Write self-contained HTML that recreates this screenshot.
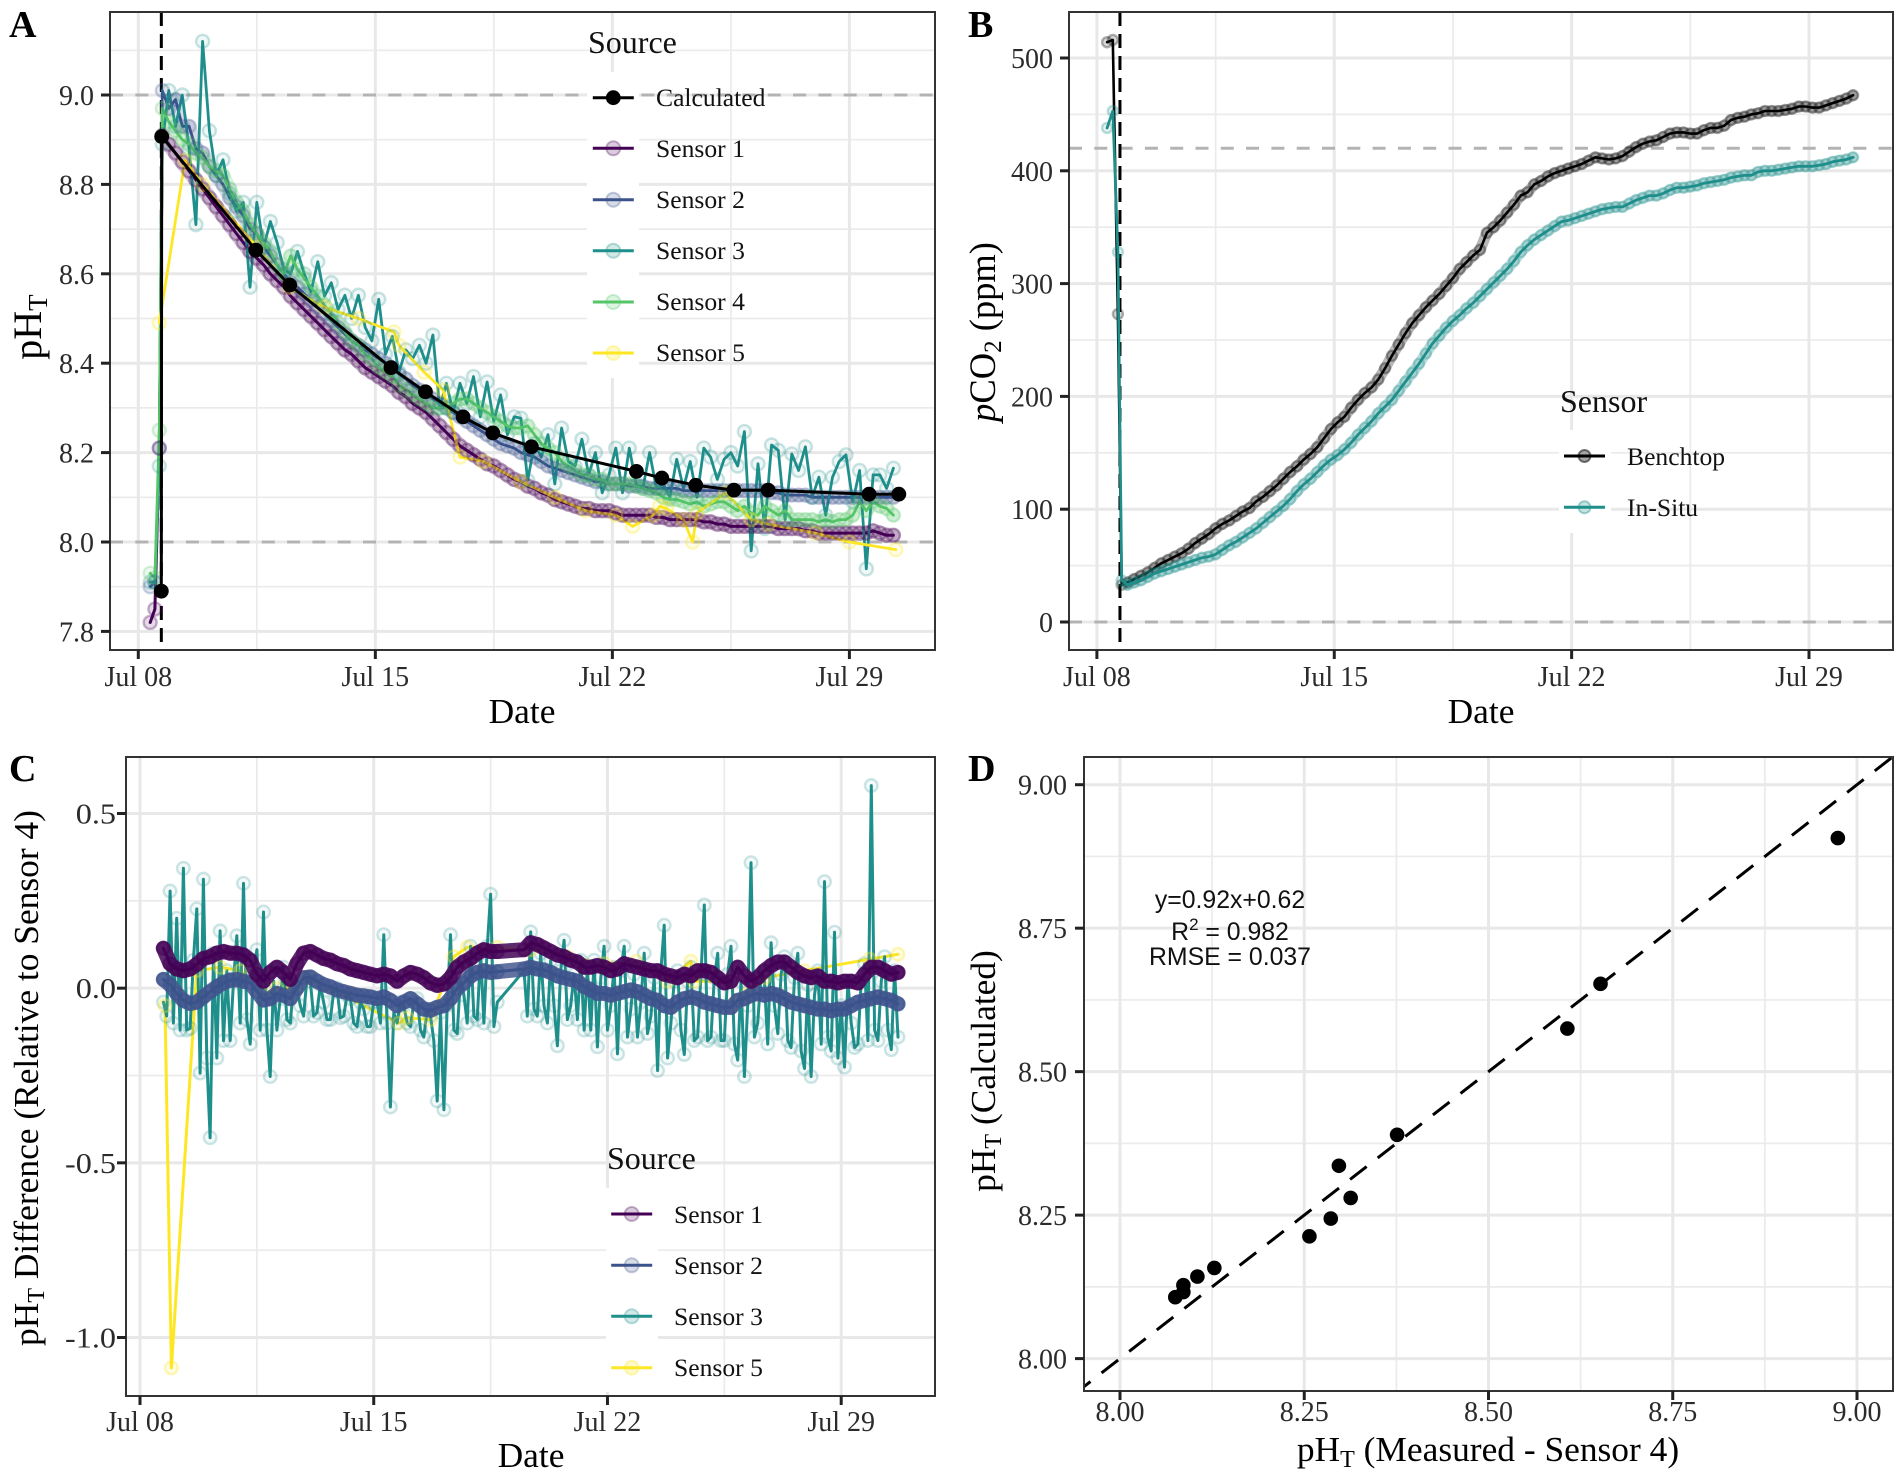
<!DOCTYPE html>
<html lang="en">
<head>
<meta charset="utf-8">
<title>pH and pCO2 sensor comparison</title>
<style>
html,body{margin:0;padding:0;background:#fff;}
svg{display:block;}
text{font-family:"Liberation Serif",serif;fill:#111;}
.tick{font-size:28px;fill:#2b2b2b;}
.title{font-size:35.4px;fill:#000;}
.legtitle{font-size:32px;fill:#111;}
.leg{font-size:25.6px;fill:#111;}
.letter{font-size:38px;font-weight:bold;fill:#000;}
.note{font-family:"Liberation Sans",sans-serif;font-size:24.8px;fill:#111;}
</style>
</head>
<body>
<svg id="figure" xmlns="http://www.w3.org/2000/svg" width="1902" height="1477" viewBox="0 0 1902 1477">
  <defs>
    <clipPath id="clip-a"><rect x="110" y="12" width="825" height="638"/></clipPath>
    <clipPath id="clip-b"><rect x="1069" y="12" width="824" height="638"/></clipPath>
    <clipPath id="clip-c"><rect x="126" y="757" width="809" height="639"/></clipPath>
    <clipPath id="clip-d"><rect x="1084" y="757" width="809" height="634"/></clipPath>
  </defs>
  <rect x="0" y="0" width="1902" height="1477" fill="#fff"/>

  <!-- Panel A -->
  <g id="panel-a">
    <g id="a-grid"></g>
    <g id="a-ref" clip-path="url(#clip-a)"></g>
    <g>
      <rect x="587" y="72" width="52" height="306" fill="#fff"/>
      <text class="legtitle" x="588" y="53">Source</text>
      <g id="a-legend-keys"></g>
      <text class="leg" x="656" y="106">Calculated</text>
      <text class="leg" x="656" y="157">Sensor 1</text>
      <text class="leg" x="656" y="208">Sensor 2</text>
      <text class="leg" x="656" y="259">Sensor 3</text>
      <text class="leg" x="656" y="310">Sensor 4</text>
      <text class="leg" x="656" y="361">Sensor 5</text>
    </g>
    <g id="a-data" clip-path="url(#clip-a)"></g>
    <rect x="110" y="12" width="825" height="638" fill="none" stroke="#333" stroke-width="2"/>
    <g id="a-axes"></g>
    <text class="title" x="522" y="723" text-anchor="middle">Date</text>
    <text class="title" font-size="40" style="font-size:40px" transform="translate(41,327) rotate(-90)" text-anchor="middle">pH<tspan dy="6" style="font-size:27px">T</tspan></text>
    <text class="letter" x="9" y="37">A</text>
  </g>

  <!-- Panel B -->
  <g id="panel-b">
    <g id="b-grid"></g>
    <g id="b-ref" clip-path="url(#clip-b)"></g>
    <g>
      <rect x="1559" y="430" width="52" height="103" fill="#fff"/>
      <text class="legtitle" x="1560" y="412">Sensor</text>
      <g id="b-legend-keys"></g>
      <text class="leg" x="1627" y="465">Benchtop</text>
      <text class="leg" x="1627" y="516">In-Situ</text>
    </g>
    <g id="b-data" clip-path="url(#clip-b)"></g>
    <rect x="1069" y="12" width="824" height="638" fill="none" stroke="#333" stroke-width="2"/>
    <g id="b-axes"></g>
    <text class="title" x="1481" y="723" text-anchor="middle">Date</text>
    <text class="title" style="font-size:36.5px" transform="translate(995,332) rotate(-90)" text-anchor="middle"><tspan font-style="italic">p</tspan>CO<tspan dy="6" style="font-size:25px">2</tspan><tspan dy="-6"> (ppm)</tspan></text>
    <text class="letter" x="968" y="37">B</text>
  </g>

  <!-- Panel C -->
  <g id="panel-c">
    <g id="c-grid"></g>
    <g>
      <rect x="606" y="1188" width="52" height="204" fill="#fff"/>
      <text class="legtitle" x="607" y="1169">Source</text>
      <g id="c-legend-keys"></g>
      <text class="leg" x="674" y="1223">Sensor 1</text>
      <text class="leg" x="674" y="1274">Sensor 2</text>
      <text class="leg" x="674" y="1325">Sensor 3</text>
      <text class="leg" x="674" y="1376">Sensor 5</text>
    </g>
    <g id="c-data" clip-path="url(#clip-c)"></g>
    <rect x="126" y="757" width="809" height="639" fill="none" stroke="#333" stroke-width="2"/>
    <g id="c-axes"></g>
    <text class="title" x="531" y="1467" text-anchor="middle">Date</text>
    <text class="title" transform="translate(38,1078) rotate(-90)" text-anchor="middle">pH<tspan dy="6" style="font-size:24px">T</tspan><tspan dy="-6"> Difference (Relative to Sensor 4)</tspan></text>
    <text class="letter" x="9" y="781">C</text>
  </g>

  <!-- Panel D -->
  <g id="panel-d">
    <g id="d-grid"></g>
    <g id="d-data" clip-path="url(#clip-d)"></g>
    <rect x="1084" y="757" width="809" height="634" fill="none" stroke="#333" stroke-width="2"/>
    <g id="d-axes"></g>
    <text class="note" x="1230" y="908" text-anchor="middle">y=0.92x+0.62</text>
    <text class="note" x="1230" y="940" text-anchor="middle">R<tspan dy="-10" style="font-size:17px">2</tspan><tspan dy="10"> = 0.982</tspan></text>
    <text class="note" x="1230" y="965" text-anchor="middle">RMSE = 0.037</text>
    <text class="title" x="1488" y="1461" text-anchor="middle">pH<tspan dy="6" style="font-size:24px">T</tspan><tspan dy="-6"> (Measured - Sensor 4)</tspan></text>
    <text class="title" transform="translate(995,1071) rotate(-90)" text-anchor="middle">pH<tspan dy="6" style="font-size:24px">T</tspan><tspan dy="-6"> (Calculated)</tspan></text>
    <text class="letter" x="968" y="781">D</text>
  </g>
</svg>

<script>
/* ---------- shared axis values ---------- */
const dateTickDays = [8, 15, 22, 29];
const dateTickLabels = ['Jul 08', 'Jul 15', 'Jul 22', 'Jul 29'];
const dateMinorDays = [11.5, 18.5, 25.5];

/* ---------- panel A ---------- */
const aYTicks = [7.8, 8.0, 8.2, 8.4, 8.6, 8.8, 9.0];
const aYLabels = ['7.8', '8.0', '8.2', '8.4', '8.6', '8.8', '9.0'];
const aYMinor = [7.9, 8.1, 8.3, 8.5, 8.7, 8.9, 9.1];
const aRefValues = [9.0, 8.0];
const deployDay = 8.68;
const aDays = [8.35,8.49,8.62,8.71,
8.9,9.1,9.3,9.5,9.7,9.9,10.1,10.3,10.5,10.7,
10.9,11.1,11.3,11.5,11.7,11.9,12.1,12.3,12.5,12.7,
12.9,13.1,13.3,13.5,13.7,13.9,14.1,14.3,14.5,14.7,
14.9,15.1,15.3,15.5,15.7,15.9,16.1,16.3,16.5,16.7,
16.9,17.1,17.3,17.5,17.7,17.9,18.1,18.3,18.5,18.7,
18.9,19.1,19.3,19.5,19.7,19.9,20.1,20.3,20.5,20.7,
20.9,21.1,21.3,21.5,21.7,21.9,22.1,22.3,22.5,22.7,
22.9,23.1,23.3,23.5,23.7,23.9,24.1,24.3,24.5,24.7,
24.9,25.1,25.3,25.5,25.7,25.9,26.1,26.3,26.5,26.7,
26.9,27.1,27.3,27.5,27.7,27.9,28.1,28.3,28.5,28.7,
28.9,29.1,29.3,29.5,29.7,29.9,30.1,30.3];
const aSensor1 = [7.82,7.85,8.21,8.91,
8.89,8.87,8.85,8.83,8.81,8.79,8.77,8.75,8.73,8.71,
8.69,8.67,8.65,8.635,8.62,8.60,8.585,8.57,8.55,8.535,
8.52,8.505,8.49,8.475,8.46,8.445,8.43,8.42,8.405,8.39,
8.38,8.37,8.36,8.35,8.335,8.325,8.31,8.30,8.29,8.275,
8.26,8.245,8.23,8.215,8.205,8.195,8.185,8.175,8.17,8.16,
8.15,8.14,8.135,8.125,8.12,8.11,8.105,8.095,8.09,8.085,
8.08,8.075,8.075,8.07,8.07,8.07,8.065,8.06,8.06,8.06,
8.06,8.06,8.055,8.055,8.05,8.05,8.05,8.05,8.05,8.045,
8.045,8.04,8.04,8.035,8.035,8.035,8.035,8.035,8.035,8.035,
8.03,8.03,8.03,8.03,8.025,8.025,8.02,8.02,8.02,8.02,
8.02,8.02,8.02,8.02,8.025,8.02,8.015,8.015];
const aSensor2 = [7.90,7.91,8.21,9.01,
8.97,8.99,8.93,8.93,8.88,8.87,8.84,8.82,8.80,8.77,
8.75,8.73,8.70,8.69,8.66,8.64,8.62,8.60,8.58,8.57,
8.555,8.54,8.525,8.51,8.495,8.48,8.465,8.45,8.44,8.43,
8.42,8.41,8.40,8.39,8.375,8.365,8.35,8.34,8.33,8.32,
8.31,8.30,8.29,8.28,8.27,8.26,8.25,8.24,8.23,8.22,
8.215,8.21,8.20,8.195,8.19,8.18,8.17,8.165,8.16,8.155,
8.15,8.145,8.14,8.135,8.135,8.13,8.13,8.13,8.125,8.125,
8.125,8.12,8.12,8.12,8.12,8.12,8.115,8.115,8.115,8.115,
8.115,8.115,8.115,8.115,8.115,8.115,8.115,8.115,8.115,8.11,
8.11,8.105,8.105,8.105,8.105,8.10,8.10,8.10,8.10,8.10,
8.10,8.10,8.10,8.10,8.10,8.10,8.10,8.10];
const aSensor3 = [7.91,7.91,8.17,8.89,
9.01,8.93,9.0,8.88,8.71,9.12,8.92,8.82,8.855,8.78,
8.74,8.76,8.57,8.76,8.66,8.717,8.67,8.61,8.60,8.65,
8.60,8.56,8.627,8.55,8.58,8.52,8.552,8.50,8.552,8.48,
8.45,8.543,8.42,8.46,8.38,8.43,8.41,8.44,8.40,8.463,
8.30,8.355,8.29,8.355,8.31,8.37,8.28,8.358,8.27,8.329,
8.24,8.28,8.277,8.138,8.22,8.19,8.24,8.13,8.255,8.18,
8.17,8.23,8.15,8.20,8.11,8.15,8.21,8.11,8.21,8.13,
8.12,8.20,8.12,8.13,8.10,8.185,8.12,8.18,8.10,8.21,
8.19,8.14,8.185,8.20,8.17,8.247,7.98,8.175,8.03,8.217,
8.205,8.05,8.197,8.16,8.213,8.10,8.145,8.06,8.145,8.18,
8.195,8.09,8.16,7.94,8.15,8.15,8.12,8.165];
const aSensor4 = [7.93,7.92,8.25,8.97,
8.94,8.92,8.90,8.89,8.87,8.86,8.84,8.83,8.82,8.79,
8.76,8.74,8.71,8.69,8.67,8.65,8.62,8.60,8.64,8.61,
8.59,8.57,8.55,8.53,8.51,8.49,8.47,8.45,8.44,8.42,
8.41,8.39,8.38,8.37,8.35,8.34,8.33,8.32,8.31,8.30,
8.30,8.30,8.31,8.32,8.32,8.31,8.30,8.29,8.28,8.27,
8.26,8.255,8.255,8.26,8.24,8.22,8.21,8.20,8.18,8.17,
8.16,8.15,8.15,8.14,8.14,8.13,8.13,8.13,8.13,8.125,
8.12,8.115,8.11,8.10,8.095,8.095,8.09,8.085,8.09,8.08,
8.085,8.09,8.09,8.08,8.07,8.08,8.065,8.06,8.08,8.07,
8.06,8.07,8.05,8.05,8.05,8.05,8.045,8.05,8.045,8.05,
8.05,8.06,8.09,8.07,8.09,8.08,8.075,8.06];
const aSensor5Days = [8.62,9.38,9.9,11.5,12.47,13.5,14.5,15.55,15.7,16.44,17.0,17.5,18.2,19.3,20.3,21.2,22.1,22.6,23.2,23.4,23.6,24.1,24.37,24.5,25.34,26.1,26.6,28,29,30.37];
const aSensor5 = [8.49,8.854,8.80,8.66,8.57,8.525,8.50,8.47,8.44,8.38,8.34,8.19,8.18,8.135,8.10,8.07,8.06,8.035,8.06,8.08,8.075,8.05,8.00,8.065,8.11,8.05,8.04,8.02,8.0,7.983];
const calcDays = [8.68,8.69,11.47,12.47,15.46,16.48,17.59,18.47,19.61,22.71,23.46,24.46,25.59,26.6,29.58,30.46];
const calcValues = [7.89,8.907,8.653,8.575,8.39,8.336,8.28,8.244,8.213,8.158,8.143,8.127,8.116,8.116,8.107,8.107];

/* ---------- panel B ---------- */
const bYTicks = [0, 100, 200, 300, 400, 500];
const bYLabels = ['0', '100', '200', '300', '400', '500'];
const bYMinor = [50, 150, 250, 350, 450];
const bRefValues = [420, 0];
const bDays = [8.3,8.47,8.62,8.73,
8.9,9.1,9.3,9.5,9.7,9.9,10.1,10.3,10.5,10.7,
10.9,11.1,11.3,11.5,11.7,11.9,12.1,12.3,12.5,12.7,
12.9,13.1,13.3,13.5,13.7,13.9,14.1,14.3,14.5,14.7,
14.9,15.1,15.3,15.5,15.7,15.9,16.1,16.3,16.5,16.7,
16.9,17.1,17.3,17.5,17.7,17.9,18.1,18.3,18.5,18.7,
18.9,19.1,19.3,19.5,19.7,19.9,20.1,20.3,20.5,20.7,
20.9,21.1,21.3,21.5,21.7,21.9,22.1,22.3,22.5,22.7,
22.9,23.1,23.3,23.5,23.7,23.9,24.1,24.3,24.5,24.7,
24.9,25.1,25.3,25.5,25.7,25.9,26.1,26.3,26.5,26.7,
26.9,27.1,27.3,27.5,27.7,27.9,28.1,28.3,28.5,28.7,
28.9,29.1,29.3,29.5,29.7,29.9,30.1,30.3];
const benchtop = [514,516,273,33,
35,38,41,44,48,52,55,58,61,65,
70,74,78,83,87,90,94,98,101,107,
111,116,121,127,133,138,144,149,155,163,
171,177,182,190,197,203,208,215,225,236,
246,256,265,272,279,285,291,298,305,313,
319,325,330,345,350,356,363,370,378,381,
388,391,395,398,400,402,404,406,409,412,
411,410,411,413,417,421,424,426,427,430,
433,434,434,433,433,436,438,438,440,445,
447,448,450,451,453,453,453,454,455,457,
457,456,456,458,460,462,464,467];
const inSitu = [438,453,328,37,
33,35,37,40,43,45,47,49,51,53,
55,57,58,60,64,68,71,75,79,83,
88,93,98,103,109,116,122,127,133,139,
144,148,153,159,166,172,178,185,191,197,
205,213,221,229,238,247,254,261,267,272,
278,283,289,295,301,307,313,320,328,334,
339,343,347,351,355,356,358,360,362,364,
366,367,368,368,371,374,376,378,378,380,
383,385,385,386,387,389,390,391,392,394,
395,396,396,399,400,400,401,402,403,404,
404,404,405,406,408,409,410,412];

/* ---------- panel C ---------- */
const cYTicks = [-1.0, -0.5, 0.0, 0.5];
const cYLabels = ['-1.0', '-0.5', '0.0', '0.5'];
const cYMinor = [-0.75, -0.25, 0.25];
const cDays = [8.7,8.9,9.1,9.3,9.5,9.7,9.9,10.1,10.3,10.5,
10.7,10.9,11.1,11.3,11.5,11.7,11.9,12.1,12.3,12.5,
12.7,12.9,13.1,13.3,13.5,13.7,13.9,14.1,14.3,14.5,
14.7,14.9,15.1,15.3,15.5,15.7,15.9,16.1,16.3,16.5,
16.7,16.9,17.1,17.3,17.5,17.7,17.9,18.1,18.3,18.5,
18.7,19.5,19.7,19.9,20.1,20.3,20.5,20.7,20.9,21.1,
21.3,21.5,21.7,21.9,22.1,22.3,22.5,22.7,22.9,23.1,
23.3,23.5,23.7,23.9,24.1,24.3,24.5,24.7,24.9,25.1,
25.3,25.5,25.7,25.9,26.1,26.3,26.5,26.7,26.9,27.1,
27.3,27.5,27.7,27.9,28.1,28.3,28.5,28.7,28.9,29.1,
29.3,29.5,29.7,29.9,30.1,30.3,30.5,30.7];
const cSensor1 = [.114,.07,.055,.05,.055,.068,.085,.09,.10,.105,
.10,.10,.095,.08,.04,.02,.045,.06,.045,.025,
.07,.10,.105,.095,.085,.08,.07,.065,.055,.05,
.045,.04,.035,.04,.035,.02,.035,.045,.04,.03,
.015,.008,.012,.03,.06,.075,.085,.10,.11,.105,
.105,.11,.13,.125,.115,.105,.095,.09,.08,.075,
.06,.06,.065,.06,.05,.055,.07,.065,.06,.055,
.05,.05,.04,.035,.03,.04,.035,.05,.05,.045,
.03,.015,.02,.06,.035,.02,.03,.05,.065,.075,
.075,.06,.045,.035,.03,.035,.02,.02,.015,.02,
.02,.015,.04,.06,.06,.05,.04,.045];
const cSensor2 = [.025,.01,-.015,-.035,-.044,-.04,-.025,-.01,.004,.015,
.023,.025,.02,.015,-.01,-.034,-.03,-.015,-.02,-.03,
0,.03,.032,.02,.01,.004,-.005,-.01,-.015,-.02,
-.022,-.025,-.03,-.025,-.035,-.05,-.04,-.03,-.045,-.06,
-.063,-.055,-.05,-.03,0,.015,.035,.045,.05,.045,
.047,.055,.06,.055,.052,.045,.035,.03,.025,.02,
.005,-.005,-.015,-.015,-.02,-.015,-.01,-.005,-.01,-.02,
-.03,-.035,-.05,-.055,-.04,-.03,-.025,-.03,-.04,-.045,
-.05,-.055,-.055,-.035,-.03,-.02,-.015,-.02,-.015,-.02,
-.03,-.04,-.045,-.05,-.055,-.06,-.06,-.065,-.06,-.06,
-.05,-.04,-.035,-.03,-.025,-.03,-.035,-.045];
const cSensor3Days = [8.7,8.8,8.9,9.0,9.1,9.2,9.3,9.4,9.5,9.6,
9.7,9.8,9.9,10.0,10.1,10.2,10.3,10.4,10.5,10.6,
10.7,10.8,10.9,11.0,11.1,11.2,11.3,11.4,11.5,11.6,
11.7,11.8,11.9,12.0,12.1,12.2,12.3,12.4,12.5,12.6,
12.7,12.8,12.9,13.0,13.1,13.2,13.3,13.4,13.5,13.6,
13.7,13.8,13.9,14.0,14.1,14.2,14.3,14.4,14.5,14.6,
14.7,14.8,14.9,15.0,15.1,15.2,15.3,15.4,15.5,15.6,
15.7,15.8,15.9,16.0,16.1,16.2,16.3,16.4,16.5,16.6,
16.7,16.8,16.9,17.0,17.1,17.2,17.3,17.4,17.5,17.6,
17.7,17.8,17.9,18.0,18.1,18.2,18.3,18.4,18.5,18.6,
18.7,19.5,19.6,19.7,19.8,19.9,20.0,20.1,20.2,20.3,
20.4,20.5,20.6,20.7,20.8,20.9,21.0,21.1,21.2,21.3,
21.4,21.5,21.6,21.7,21.8,21.9,22.0,22.1,22.2,22.3,
22.4,22.5,22.6,22.7,22.8,22.9,23.0,23.1,23.2,23.3,
23.4,23.5,23.6,23.7,23.8,23.9,24.0,24.1,24.2,24.3,
24.4,24.5,24.6,24.7,24.8,24.9,25.0,25.1,25.2,25.3,
25.4,25.5,25.6,25.7,25.8,25.9,26.0,26.1,26.2,26.3,
26.4,26.5,26.6,26.7,26.8,26.9,27.0,27.1,27.2,27.3,
27.4,27.5,27.6,27.7,27.8,27.9,28.0,28.1,28.2,28.3,
28.4,28.5,28.6,28.7,28.8,28.9,29.0,29.1,29.2,29.3,
29.4,29.5,29.6,29.7,29.8,29.9,30.0,30.1,30.2,30.3,
30.4,30.5,30.6,30.7];
const cSensor3 = [-.04,-.08,.278,-.1,.2,-.12,.343,-.12,-.115,.08,
.227,-.243,.312,-.2,-.428,.1,-.2,.164,-.15,.05,
-.15,.02,.15,-.1,.30,-.09,-.16,.05,.11,-.12,
.218,-.12,-.253,.02,-.12,-.03,.06,-.09,-.10,.01,
0,-.05,-.08,.03,.02,-.08,-.07,.01,-.04,-.09,
-.09,-.01,0,-.085,-.08,-.02,-.03,-.1,-.11,-.04,
-.06,-.11,-.11,-.04,-.04,-.1,.153,-.1,-.34,-.07,
-.1,-.04,-.05,-.1,-.11,-.04,-.03,-.12,-.14,-.06,
-.08,-.15,-.323,-.07,-.348,-.05,.153,-.12,-.13,.03,
-.02,-.1,.12,-.08,-.09,.1,-.1,.12,.269,-.11,
-.04,.05,-.08,.161,-.06,-.08,.1,-.05,-.1,.08,
-.05,-.165,.05,.137,-.09,-.05,.04,-.09,.08,-.12,
.06,-.12,.08,-.168,.03,.12,-.12,-.05,.06,-.188,
.05,.12,-.14,-.06,.04,-.14,-.04,.10,-.13,-.08,
.03,-.236,.05,.18,-.2,-.10,.02,.05,-.12,-.19,
.02,.06,-.15,-.14,.04,.238,-.15,-.14,.03,.10,
-.15,-.15,.04,.12,-.16,-.206,.02,-.253,-.05,.359,
-.14,-.1,.04,.02,-.16,.13,-.05,-.13,.04,.09,
-.15,-.17,.03,.10,-.18,-.23,.01,-.253,-.02,.05,
-.16,.305,-.14,-.18,.16,-.2,-.05,-.226,.02,-.10,
-.17,-.16,.02,.07,-.15,.58,-.12,-.15,.02,.09,
-.12,-.176,.05,-.14];
const cSensor5Days = [8.75,8.94,9.7,10.4,11.0,11.7,12.1,12.6,13.0,15.75,16.0,16.7,17.4,17.8,18.7,19.7,20.8,21.9,22.86,23.8,24.5,24.6,25.7,25.8,26.2,26.7,27.9,29.85,30.7];
const cSensor5 = [-.05,-1.087,.05,.06,.05,-.02,0,0,.03,-.1,-.085,-.09,.09,.117,.117,.11,.09,.07,.077,.02,.077,.02,.02,-.044,-.018,.03,.05,.083,.097];

/* ---------- panel D ---------- */
const dTicks = [8.0, 8.25, 8.5, 8.75, 9.0];
const dLabels = ['8.00', '8.25', '8.50', '8.75', '9.00'];
const dMinor = [8.125, 8.375, 8.625, 8.875];
const measuredValues = [8.974,8.652,8.607,8.376,8.297,8.313,8.286,8.257,8.128,8.105,8.086,8.086,8.075];
const calculatedValues = [8.907,8.653,8.575,8.39,8.336,8.28,8.244,8.213,8.158,8.143,8.128,8.116,8.107];
const identityLine = [7.9, 9.1];

/* ---------- helpers ---------- */
const NS = 'http://www.w3.org/2000/svg';
const COLORS = {s1:'#440154', s2:'#3B528B', s3:'#1F8F8B', s4:'#55C667', s5:'#FDE725', black:'#000000'};

function make(parent, tag, attrs) {
  const el = document.createElementNS(NS, tag);
  for (const k in attrs) el.setAttribute(k, attrs[k]);
  parent.appendChild(el);
  return el;
}
function linear(v1, p1, v2, p2) {
  return function (v) { return p1 + (v - v1) * (p2 - p1) / (v2 - v1); };
}
function byId(id) { return document.getElementById(id); }

function drawGridAndAxes(gridId, axesId, box, xs, ys, xTicks, xLabels, xMinor, yTicks, yLabels, yMinor, opts) {
  const grid = byId(gridId), axes = byId(axesId);
  xMinor.forEach(function (v) {
    const l = make(grid, 'line', {x1: xs(v), x2: xs(v), y1: box.t, y2: box.b, stroke: '#ebebeb', 'stroke-width': 1.7});
    
    
  });
  yMinor.forEach(function (v) {
    const l = make(grid, 'line', {x1: box.l, x2: box.r, y1: ys(v), y2: ys(v), stroke: '#ebebeb', 'stroke-width': 1.7});
    
    
  });
  xTicks.forEach(function (v, i) {
    const l = make(grid, 'line', {x1: xs(v), x2: xs(v), y1: box.t, y2: box.b, stroke: '#e8e8e8', 'stroke-width': 3});
    
    
    const t = make(axes, 'line', {x1: xs(v), x2: xs(v), y1: box.b, y2: box.b + 9, stroke: '#222', 'stroke-width': 3});
    
    
    const s = make(axes, 'text', {x: xs(v), y: opts.xLabelY, 'text-anchor': 'middle', 'class': 'tick'});
    
    
    s.textContent = xLabels[i];
  });
  yTicks.forEach(function (v, i) {
    const l = make(grid, 'line', {x1: box.l, x2: box.r, y1: ys(v), y2: ys(v), stroke: '#e8e8e8', 'stroke-width': 3});
    
    
    const t = make(axes, 'line', {x1: box.l - 9, x2: box.l, y1: ys(v), y2: ys(v), stroke: '#222', 'stroke-width': 3});
    
    
    const s = make(axes, 'text', {transform: 'translate(' + opts.yLabelX + ',' + (ys(v) + 10) + ') scale(' + (opts.yLabelStretch || 1) + ',1)', 'text-anchor': 'end', 'class': 'tick'});
    
    
    s.textContent = yLabels[i];
  });
}
function drawLine(group, days, vals, xs, ys, color, width, name) {
  const pts = days.map(function (d, i) { return xs(d).toFixed(1) + ',' + ys(vals[i]).toFixed(1); }).join(' ');
  const line = make(group, 'polyline', {points: pts, fill: 'none', stroke: color, 'stroke-width': width, 'stroke-linejoin': 'round', 'stroke-linecap': 'round'});
  
  
}
function drawBand(group, days, vals, xs, ys, color, width, opacity, name) {
  const pts = days.map(function (d, i) { return xs(d).toFixed(1) + ',' + ys(vals[i]).toFixed(1); }).join(' ');
  const band = make(group, 'polyline', {points: pts, fill: 'none', stroke: color, 'stroke-width': width, 'stroke-opacity': opacity, 'stroke-linejoin': 'round', 'stroke-linecap': 'round'});
  
  
}
function drawPoints(group, days, vals, xs, ys, color, r, fillOp, strokeOp, name) {
  days.forEach(function (d, i) {
    const c = make(group, 'circle', {cx: xs(d), cy: ys(vals[i]), r: r, fill: color, 'fill-opacity': fillOp, stroke: color, 'stroke-opacity': strokeOp, 'stroke-width': 2.4});
    
    
  });
}
function drawKey(group, cx, cy, color, r, fillOp, strokeOp, width, name) {
  const c = make(group, 'circle', {cx: cx, cy: cy, r: r, fill: color, 'fill-opacity': fillOp, stroke: color, 'stroke-opacity': strokeOp, 'stroke-width': 2});
  
  
  const l = make(group, 'line', {x1: cx - 20.5, x2: cx + 20.5, y1: cy, y2: cy, stroke: color, 'stroke-width': width});
  
  
}
function drawHRef(group, vals, box, ys) {
  vals.forEach(function (v) {
    const l = make(group, 'line', {x1: box.l, x2: box.r, y1: ys(v), y2: ys(v), stroke: '#b3b3b3', 'stroke-width': 3, 'stroke-dasharray': '13 12.3'});
    
    
  });
}
function drawDeploy(group, day, box, xs) {
  const l = make(group, 'line', {x1: xs(day), x2: xs(day), y1: box.t, y2: box.b, stroke: '#000', 'stroke-width': 3, 'stroke-dasharray': '14 8'});
  
  
}

/* ---------- panel A ---------- */
(function () {
  const box = {l: 110, t: 12, r: 935, b: 650};
  const xs = linear(8, 138.3, 29, 849.4);
  const ys = linear(9, 95, 8, 542);
  drawGridAndAxes('a-grid', 'a-axes', box, xs, ys, dateTickDays, dateTickLabels, dateMinorDays, aYTicks, aYLabels, aYMinor, {xLabelY: 686, yLabelX: 94});
  const ref = byId('a-ref');
  drawHRef(ref, aRefValues, box, ys);
  drawDeploy(ref, deployDay, box, xs);
  const g = byId('a-data');
  drawBand(g, aDays.slice(4), aSensor1.slice(4), xs, ys, COLORS.s1, 15, .22, 'sensor-1');
  drawBand(g, aDays.slice(4), aSensor2.slice(4), xs, ys, COLORS.s2, 14, .2, 'sensor-2');
  drawBand(g, aDays.slice(4), aSensor4.slice(4), xs, ys, COLORS.s4, 14, .2, 'sensor-4');
  drawLine(g, aDays, aSensor1, xs, ys, COLORS.s1, 3, 'sensor-1');
  drawLine(g, aDays, aSensor2, xs, ys, COLORS.s2, 2.8, 'sensor-2');
  drawLine(g, aDays, aSensor3, xs, ys, COLORS.s3, 2.8, 'sensor-3');
  drawLine(g, aDays, aSensor4, xs, ys, COLORS.s4, 2.8, 'sensor-4');
  drawLine(g, aSensor5Days, aSensor5, xs, ys, COLORS.s5, 2.8, 'sensor-5');
  drawPoints(g, aDays, aSensor1, xs, ys, COLORS.s1, 6.5, .14, .3, 'sensor-1');
  drawPoints(g, aDays, aSensor2, xs, ys, COLORS.s2, 6.5, .12, .26, 'sensor-2');
  drawPoints(g, aDays, aSensor3, xs, ys, COLORS.s3, 6.5, .07, .24, 'sensor-3');
  drawPoints(g, aDays, aSensor4, xs, ys, COLORS.s4, 6.5, .1, .26, 'sensor-4');
  drawPoints(g, aSensor5Days, aSensor5, xs, ys, COLORS.s5, 6.5, .1, .3, 'sensor-5');
  drawLine(g, calcDays, calcValues, xs, ys, COLORS.black, 3, 'calculated');
  calcDays.forEach(function (d, i) {
    const c = make(g, 'circle', {cx: xs(d), cy: ys(calcValues[i]), r: 7.4, fill: '#000'});
    
    
  });
  const k = byId('a-legend-keys');
  const c0 = make(k, 'circle', {cx: 613.3, cy: 97.7, r: 7.4, fill: '#000'});
  
  
  const l0 = make(k, 'line', {x1: 592.8, x2: 633.8, y1: 97.7, y2: 97.7, stroke: '#000', 'stroke-width': 3});
  
  
  drawKey(k, 613.3, 148.3, COLORS.s1, 7, .2, .3, 3, 'sensor-1');
  drawKey(k, 613.3, 199.7, COLORS.s2, 7, .2, .3, 3, 'sensor-2');
  drawKey(k, 613.3, 250.7, COLORS.s3, 7, .2, .3, 3, 'sensor-3');
  drawKey(k, 613.3, 302, COLORS.s4, 7, .2, .3, 3, 'sensor-4');
  drawKey(k, 613.3, 353, COLORS.s5, 7, .25, .3, 3, 'sensor-5');
})();

/* ---------- panel B ---------- */
(function () {
  const box = {l: 1069, t: 12, r: 1893, b: 650};
  const xs = linear(8, 1096.9, 29, 1809);
  const ys = linear(500, 58, 0, 622);
  drawGridAndAxes('b-grid', 'b-axes', box, xs, ys, dateTickDays, dateTickLabels, dateMinorDays, bYTicks, bYLabels, bYMinor, {xLabelY: 686, yLabelX: 1053});
  const ref = byId('b-ref');
  drawHRef(ref, bRefValues, box, ys);
  drawDeploy(ref, deployDay, box, xs);
  const g = byId('b-data');
  drawBand(g, bDays.slice(4), benchtop.slice(4), xs, ys, COLORS.black, 11, .28, 'benchtop');
  drawLine(g, bDays, benchtop, xs, ys, COLORS.black, 2.6, 'benchtop');
  drawPoints(g, bDays, benchtop, xs, ys, COLORS.black, 5, .15, .3, 'benchtop');
  drawBand(g, bDays.slice(4), inSitu.slice(4), xs, ys, COLORS.s3, 11, .3, 'in-situ');
  drawLine(g, bDays, inSitu, xs, ys, COLORS.s3, 2.8, 'in-situ');
  drawPoints(g, bDays, inSitu, xs, ys, COLORS.s3, 5, .12, .3, 'in-situ');
  const k = byId('b-legend-keys');
  drawKey(k, 1584.5, 456, '#000', 6, .35, .5, 3, 'benchtop');
  drawKey(k, 1584.5, 507.3, COLORS.s3, 6, .25, .4, 3, 'in-situ');
})();

/* ---------- panel C ---------- */
(function () {
  const box = {l: 126, t: 757, r: 935, b: 1396};
  const xs = linear(8, 140, 29, 841.2);
  const ys = linear(0.5, 813.5, -1, 1337.5);
  drawGridAndAxes('c-grid', 'c-axes', box, xs, ys, dateTickDays, dateTickLabels, dateMinorDays, cYTicks, cYLabels, cYMinor, {xLabelY: 1431, yLabelX: 116, yLabelStretch: 1.15});
  const g = byId('c-data');
  drawLine(g, cSensor5Days, cSensor5, xs, ys, COLORS.s5, 3, 'sensor-5');
  drawLine(g, cSensor3Days, cSensor3, xs, ys, COLORS.s3, 3, 'sensor-3');
  drawPoints(g, cSensor3Days, cSensor3, xs, ys, COLORS.s3, 6.3, .05, .22, 'sensor-3');
  drawPoints(g, cSensor5Days, cSensor5, xs, ys, COLORS.s5, 6.3, .12, .32, 'sensor-5');
  drawBand(g, cDays, cSensor2, xs, ys, '#46598F', 15, .85, 'sensor-2');
  drawLine(g, cDays, cSensor2, xs, ys, COLORS.s2, 3, 'sensor-2');
  drawPoints(g, cDays, cSensor2, xs, ys, COLORS.s2, 6.5, .4, .4, 'sensor-2');
  drawBand(g, cDays, cSensor1, xs, ys, '#4E1260', 15, .9, 'sensor-1');
  drawLine(g, cDays, cSensor1, xs, ys, COLORS.s1, 3, 'sensor-1');
  drawPoints(g, cDays, cSensor1, xs, ys, COLORS.s1, 6.5, .4, .4, 'sensor-1');
  const k = byId('c-legend-keys');
  drawKey(k, 631.7, 1214, COLORS.s1, 7, .2, .3, 3, 'sensor-1');
  drawKey(k, 631.7, 1265.3, COLORS.s2, 7, .2, .3, 3, 'sensor-2');
  drawKey(k, 631.7, 1316.3, COLORS.s3, 7, .2, .3, 3, 'sensor-3');
  drawKey(k, 631.7, 1367.7, COLORS.s5, 7, .25, .3, 3, 'sensor-5');
})();

/* ---------- panel D ---------- */
(function () {
  const box = {l: 1084, t: 757, r: 1893, b: 1391};
  const xs = linear(8, 1120, 9, 1857);
  const ys = linear(9, 784.7, 8, 1358.6);
  drawGridAndAxes('d-grid', 'd-axes', box, xs, ys, dTicks, dLabels, dMinor, dTicks, dLabels, dMinor, {xLabelY: 1421, yLabelX: 1067});
  const g = byId('d-data');
  const l = make(g, 'line', {x1: xs(identityLine[0]), y1: ys(identityLine[0]), x2: xs(identityLine[1]), y2: ys(identityLine[1]), stroke: '#000', 'stroke-width': 3, 'stroke-dasharray': '21 14'});
  
  
  measuredValues.forEach(function (m, i) {
    const c = make(g, 'circle', {cx: xs(m), cy: ys(calculatedValues[i]), r: 7.3, fill: '#000'});
    
    
  });
})();
</script>
</body>
</html>
